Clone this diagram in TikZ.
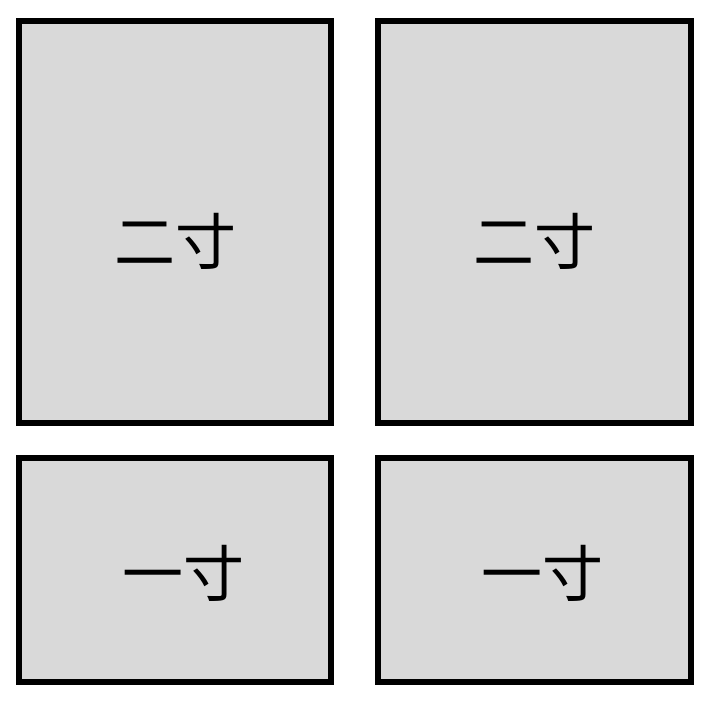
\documentclass[tikz,border=0pt]{standalone}
\usepackage{fontspec}
\newfontfamily\cjk{Noto Sans CJK SC}
\definecolor{boxgray}{HTML}{D9D9D9}
\begin{document}
\begin{tikzpicture}[x=1pt,y=-1pt,
  panel/.style={draw=black, line width=6pt, fill=boxgray},
  lab/.style={font=\cjk\fontsize{61}{64}\selectfont, inner sep=0pt, anchor=center}]
\useasboundingbox (0,0) rectangle (716,706);
\draw[panel] (18.5,21) rectangle (331,423);
\draw[panel] (378,21) rectangle (691,423);
\draw[panel] (18.5,458) rectangle (331,682);
\draw[panel] (378,458) rectangle (691,682);
\node[lab] (t1) at (175,241) {二寸};
\node[lab] (t2) at (534,241) {二寸};
\node[lab] (b1) at (183,573) {一寸};
\node[lab] (b2) at (542,573) {一寸};
\end{tikzpicture}
\end{document}
